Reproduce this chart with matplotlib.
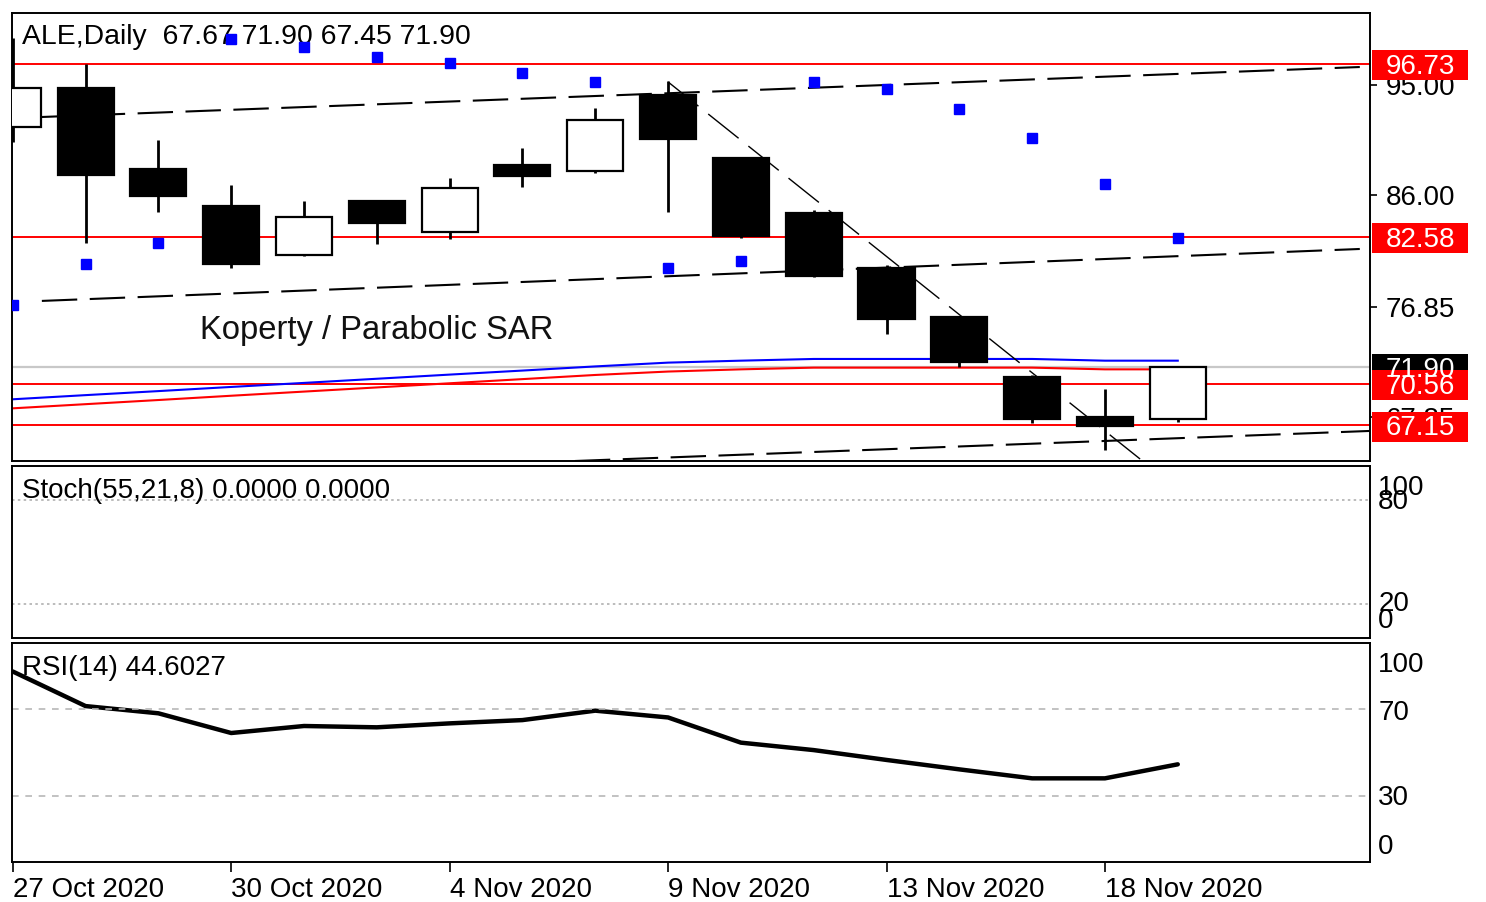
import matplotlib
matplotlib.use('Agg')
import matplotlib.pyplot as plt
import matplotlib.transforms as mtransforms
from matplotlib.patches import Rectangle

plt.rcParams['font.family'] = ['Liberation Sans', 'DejaVu Sans']

# ALE daily, 27 Oct - 19 Nov 2020 (11 Nov market closed)
opens = [91.56, 94.75, 88.10, 85.10, 81.09, 85.51, 83.00, 88.45, 87.99, 94.18,
         89.00, 84.55, 80.02, 75.99, 71.13, 67.86, 67.67]
highs = [98.85, 96.72, 90.50, 86.82, 85.51, 85.60, 87.39, 89.82, 93.09, 95.33,
         89.10, 84.77, 80.27, 76.10, 71.25, 70.10, 71.90]
lows = [90.34, 82.07, 84.63, 80.02, 81.00, 81.99, 82.40, 86.68, 87.80, 84.63,
        82.50, 79.30, 74.62, 71.90, 67.32, 65.13, 67.45]
closes = [94.75, 87.64, 85.92, 80.35, 84.17, 83.71, 86.55, 87.59, 92.14, 90.56,
          82.64, 79.39, 75.85, 72.33, 67.69, 67.10, 71.90]

sar = [77.00, 80.35, 82.09, 98.76, 98.09, 97.32, 96.82, 96.01, 95.27, 80.05,
       80.62, 95.27, 94.67, 93.04, 90.64, 86.90, 82.45]

ma_blue = [69.28, 69.62, 69.95, 70.29, 70.62, 70.96, 71.30, 71.63, 71.97, 72.28,
           72.44, 72.58, 72.58, 72.58, 72.58, 72.44, 72.44]
ma_red = [68.54, 68.88, 69.22, 69.57, 69.91, 70.25, 70.59, 70.93, 71.27, 71.55,
          71.73, 71.87, 71.87, 71.87, 71.87, 71.73, 71.73]

rsi = [87.0, 71.2, 67.9, 58.9, 62.1, 61.5, 63.3, 64.8, 69.1, 66.0,
       54.5, 51.1, 46.6, 42.3, 38.2, 38.2, 44.6]

# horizontal levels and channel / trend lines
levels = [96.73, 82.58, 70.56, 67.15]
bid = 71.90
chan_x = [0.4, 18.5]
chan_upper = [92.38, 96.47]
chan_lower = [77.33, 81.58]
chan_bottom_x = [7.72, 18.64]
chan_bottom = [64.23, 66.69]
trend_x = [9, 16]
trend_y = [95.25, 61.93]

tick_idx = [0, 3, 6, 9, 12, 15]
tick_labels = ['27 Oct 2020', '30 Oct 2020', '4 Nov 2020', '9 Nov 2020',
               '13 Nov 2020', '18 Nov 2020']

W, H = 1486, 902
fig = plt.figure(figsize=(W / 100, H / 100), dpi=100)
fig.patch.set_facecolor('white')

def rect(l, t, r, b):
    return [l / W, (H - b) / H, (r - l) / W, (b - t) / H]

ax = fig.add_axes(rect(12, 13, 1370, 461))
ax_st = fig.add_axes(rect(12, 466, 1370, 638))
ax_rsi = fig.add_axes(rect(12, 643, 1370, 862))

xlim = (-0.01, 18.64)
fs = 20
for a in (ax, ax_st, ax_rsi):
    a.set_xlim(*xlim)
    for s in a.spines.values():
        s.set_linewidth(1.4)
        s.set_color('black')
    a.yaxis.tick_right()
    a.tick_params(axis='y', length=5, width=1.2, pad=6, labelsize=fs)

# ---- price panel
ax.set_ylim(64.23, 100.89)
x = list(range(len(opens)))
ax.vlines(x, lows, highs, color='black', lw=2, zorder=3)
for i in x:
    o, c = opens[i], closes[i]
    ax.bar(i, abs(c - o), bottom=min(o, c), width=0.77,
           color='white' if c > o else 'black', edgecolor='black', lw=1.6, zorder=4)

for lv in levels:
    ax.axhline(lv, color='#ff0000', lw=1.4, zorder=2)
ax.axhline(bid, color='#c8c8c8', lw=1.6, zorder=1)

ax.plot(x, ma_blue, color='#0000ff', lw=1.5, zorder=2)
ax.plot(x, ma_red, color='#ff0000', lw=1.5, zorder=2)

ax.plot(chan_x, chan_upper, color='black', lw=1.5, ls=(0, (17, 6)), zorder=2)
ax.plot(chan_x, chan_lower, color='black', lw=1.5, ls=(0, (17, 6)), zorder=2)
ax.plot(chan_bottom_x, chan_bottom, color='black', lw=1.5, ls=(0, (17, 6)), zorder=2)
ax.plot(trend_x, trend_y, color='black', lw=1.0, ls=(0, (28, 9)), zorder=5)

ax.plot(x, sar, ls='none', marker='s', ms=6.5, color='#0000ff', zorder=6)

ax.set_xticks([])
ax.set_yticks([95, 86, 76.85, 67.85])
ax.set_yticklabels(['95.00', '86.00', '76.85', '67.85'])

ax.text(0.0074, 0.946, 'ALE,Daily  67.67 71.90 67.45 71.90', transform=ax.transAxes,
        fontsize=20.4, va='center', ha='left', zorder=1)
ax.text(0.1384, 0.292, 'Koperty / Parabolic SAR', transform=ax.transAxes,
        fontsize=23.6, va='center', ha='left', color='#111111')

trans = mtransforms.blended_transform_factory(ax.transAxes, ax.transData)
box_w = 96 / 1358
for val, fc in [(bid, 'black'), (levels[0], '#ff0000'), (levels[1], '#ff0000'),
                (levels[2], '#ff0000'), (levels[3], '#ff0000')]:
    ax.add_patch(Rectangle((1.0015, val - 1.35), box_w, 2.46, transform=trans,
                           fc=fc, ec='none', clip_on=False, zorder=7))
    ax.text(1.0015 + box_w / 2, val - 0.25, f'{val:.2f}', transform=trans, color='white',
            ha='center', va='center', fontsize=fs, clip_on=False, zorder=8)

# ---- stochastic panel
ax_st.set_ylim(0, 100)
ax_st.set_xticks([])
ax_st.set_yticks([])
for lv in (80, 20):
    ax_st.axhline(lv, color='#b0b0b0', lw=1.2, ls=(0, (1.5, 2)))
ax_st.text(0.0074, 0.855, 'Stoch(55,21,8) 0.0000 0.0000', transform=ax_st.transAxes,
           fontsize=fs, va='center', ha='left')
st_trans = mtransforms.blended_transform_factory(ax_st.transAxes, ax_st.transData)
for val, pos in [(100, 87), (80, 79), (20, 20), (0, 10)]:
    ax_st.text(1.006, pos, str(val), transform=st_trans, fontsize=fs,
               va='center', ha='left', clip_on=False)

# ---- RSI panel
ax_rsi.set_ylim(0, 100)
ax_rsi.plot(x, rsi, color='black', lw=3.2, solid_capstyle='round')
for lv in (70, 30):
    ax_rsi.axhline(lv, color='#b8b8b8', lw=1.2, ls=(0, (4, 4)))
ax_rsi.text(0.0074, 0.886, 'RSI(14) 44.6027', transform=ax_rsi.transAxes,
            fontsize=fs, va='center', ha='left')
ax_rsi.set_yticks([])
rsi_trans = mtransforms.blended_transform_factory(ax_rsi.transAxes, ax_rsi.transData)
for val, pos in [(100, 90), (70, 68), (30, 29), (0, 7)]:
    ax_rsi.text(1.006, pos, str(val), transform=rsi_trans, fontsize=fs,
                va='center', ha='left', clip_on=False)

ax_rsi.set_xticks(tick_idx)
ax_rsi.set_xticklabels(tick_labels, ha='left')
ax_rsi.tick_params(axis='x', length=7, width=1.2, pad=4, labelsize=fs)

fig.savefig('out.png', dpi=100, facecolor='white')
